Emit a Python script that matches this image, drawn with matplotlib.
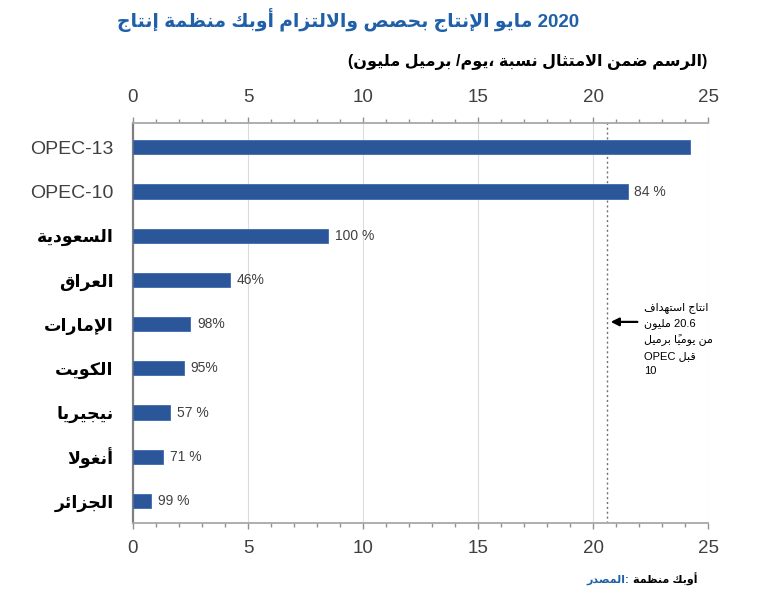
import re
import matplotlib
matplotlib.use("Agg")
import matplotlib.pyplot as plt
from matplotlib.ticker import MultipleLocator

plt.rcParams['font.family'] = ['Liberation Sans', 'DejaVu Sans']

# data (million barrels/day, compliance %)
countries = ['OPEC-13', 'OPEC-10', 'السعودية', 'العراق', 'الإمارات',
             'الكويت', 'نيجيريا', 'أنغولا', 'الجزائر']
production = [24.2, 21.5, 8.5, 4.2, 2.5, 2.2, 1.6, 1.3, 0.8]
compliance = ['', '84 %', '100 %', '46%', '98%', '95%', '57 %', '71 %', '99 %']
target = 20.6

title = 'إنتاج منظمة أوبك والالتزام بحصص الإنتاج مايو 2020'
subtitle = '(مليون برميل /يوم، نسبة الامتثال ضمن الرسم)'
note_lines = ['استهداف انتاج', 'مليون 20.6', 'برميل يومياً من', 'OPEC قبل', '10']
source_head = 'المصدر:'
source_body = 'منظمة أوبك'

# ---- minimal arabic shaping (matplotlib has no shaping / bidi) ----
FORMS = {
    'ء': (0xFE80, 1), 'آ': (0xFE81, 2), 'أ': (0xFE83, 2), 'ؤ': (0xFE85, 2),
    'إ': (0xFE87, 2), 'ئ': (0xFE89, 4), 'ا': (0xFE8D, 2), 'ب': (0xFE8F, 4),
    'ة': (0xFE93, 2), 'ت': (0xFE95, 4), 'ث': (0xFE99, 4), 'ج': (0xFE9D, 4),
    'ح': (0xFEA1, 4), 'خ': (0xFEA5, 4), 'د': (0xFEA9, 2), 'ذ': (0xFEAB, 2),
    'ر': (0xFEAD, 2), 'ز': (0xFEAF, 2), 'س': (0xFEB1, 4), 'ش': (0xFEB5, 4),
    'ص': (0xFEB9, 4), 'ض': (0xFEBD, 4), 'ط': (0xFEC1, 4), 'ظ': (0xFEC5, 4),
    'ع': (0xFEC9, 4), 'غ': (0xFECD, 4), 'ف': (0xFED1, 4), 'ق': (0xFED5, 4),
    'ك': (0xFED9, 4), 'ل': (0xFEDD, 4), 'م': (0xFEE1, 4), 'ن': (0xFEE5, 4),
    'ه': (0xFEE9, 4), 'و': (0xFEED, 2), 'ى': (0xFEEF, 2), 'ي': (0xFEF1, 4),
}
LAM_ALEF = {'آ': 0xFEF5, 'أ': 0xFEF7, 'إ': 0xFEF9, 'ا': 0xFEFB}
MARKS = set(chr(c) for c in range(0x064B, 0x0653))


def shape(text):
    chars = list(text)
    out = []
    prev_joins = False
    i = 0
    while i < len(chars):
        ch = chars[i]
        if ch in MARKS:
            out.append(ch)
            i += 1
            continue
        if ch not in FORMS:
            out.append(ch)
            prev_joins = False
            i += 1
            continue
        j = i + 1
        while j < len(chars) and chars[j] in MARKS:
            j += 1
        nxt = chars[j] if j < len(chars) else None
        if ch == 'ل' and nxt in LAM_ALEF:
            out.append(chr(LAM_ALEF[nxt] + (1 if prev_joins else 0)))
            out.extend(chars[i + 1:j])
            prev_joins = False
            i = j + 1
            continue
        base, n = FORMS[ch]
        joins_next = n == 4 and nxt in FORMS
        if prev_joins and joins_next:
            form = 3
        elif prev_joins:
            form = 1 if n > 1 else 0
        elif joins_next:
            form = 2
        else:
            form = 0
        out.append(chr(base + form))
        prev_joins = n == 4
        i += 1
    return ''.join(out)


def ar(text):
    # words stay in the order they appear on the picture, letters run right to left
    shaped = shape(text)

    def flip(m):
        clusters = re.findall('.[\u064B-\u0652]*', m.group())
        return ''.join(reversed(clusters))
    return re.sub('[\uFE70-\uFEFF\u064B-\u0652]+', flip, shaped)


bar_color = '#2B579A'
text_grey = '#404040'
blue = '#1F60A8'

fig = plt.figure(figsize=(7.7, 6.02), dpi=100)
ax = fig.add_axes([0.1727, 0.1312, 0.7468, 0.6645])

ypos = list(range(len(countries)))
ax.barh(ypos, production, height=0.32, color=bar_color, edgecolor='#3F6AAE',
        linewidth=0.6, zorder=3)

for y, v, lab in zip(ypos, production, compliance):
    if lab:
        ax.annotate(lab, (v, y), xytext=(5, 0), textcoords='offset points',
                    va='center', ha='left', fontsize=10, color=text_grey)

ax.set_xlim(0, 25)
ax.set_ylim(8.5, -0.55)
ax.xaxis.set_major_locator(MultipleLocator(5))
ax.xaxis.set_minor_locator(MultipleLocator(1))
ax.grid(axis='x', which='major', color='#dcdcdc', linewidth=0.8, zorder=0)
ax.axvline(target, color='#707070', linestyle=(0, (1.5, 2)), linewidth=1, zorder=2)

ax.tick_params(axis='x', which='both', top=True, labeltop=True, direction='out',
               color='#909090', labelsize=13.5, labelcolor=text_grey, pad=8)
ax.tick_params(axis='x', which='major', length=4, width=1)
ax.tick_params(axis='x', which='minor', length=3, width=1)

ax.set_yticks(ypos)
ax.set_yticklabels([ar(c) for c in countries])
ax.tick_params(axis='y', length=0, pad=14)
for t, c in zip(ax.get_yticklabels(), countries):
    if c.startswith('OPEC'):
        t.set_color(text_grey)
        t.set_fontsize(14)
    else:
        t.set_fontweight('bold')
        t.set_fontsize(12.5)
        t.set_color('black')

ax.spines['right'].set_visible(False)
ax.spines['left'].set_color('#808080')
ax.spines['left'].set_linewidth(1.6)
for s in ('top', 'bottom'):
    ax.spines[s].set_color('#a8a8a8')
    ax.spines[s].set_linewidth(1.3)

# target annotation
ax.annotate('', xy=(target + 0.05, 3.95), xytext=(22.05, 3.95),
            arrowprops=dict(arrowstyle='-|>', color='black', lw=1.6,
                            mutation_scale=12), zorder=4)
ax.text(22.2, 3.5, '\n'.join(ar(l) for l in note_lines), ha='left', va='top',
        fontsize=8, linespacing=1.6, color='black')

fig.text(0.452, 0.967, ar(title), ha='center', va='center', fontsize=13.5,
         fontweight='bold', color=blue)
fig.text(0.918, 0.897, ar(subtitle), ha='right', va='center', fontsize=11.5,
         fontweight='bold', color='black')

head = fig.text(0.762, 0.037, ar(source_head), ha='left', va='center',
                fontsize=8, fontweight='bold', color=blue)
fig.canvas.draw()
bb = head.get_window_extent(fig.canvas.get_renderer())
fig.text((bb.x1 + 4) / fig.bbox.width, 0.037, ar(source_body), ha='left',
         va='center', fontsize=8, fontweight='bold', color='black')

fig.savefig('out.png', dpi=100)
